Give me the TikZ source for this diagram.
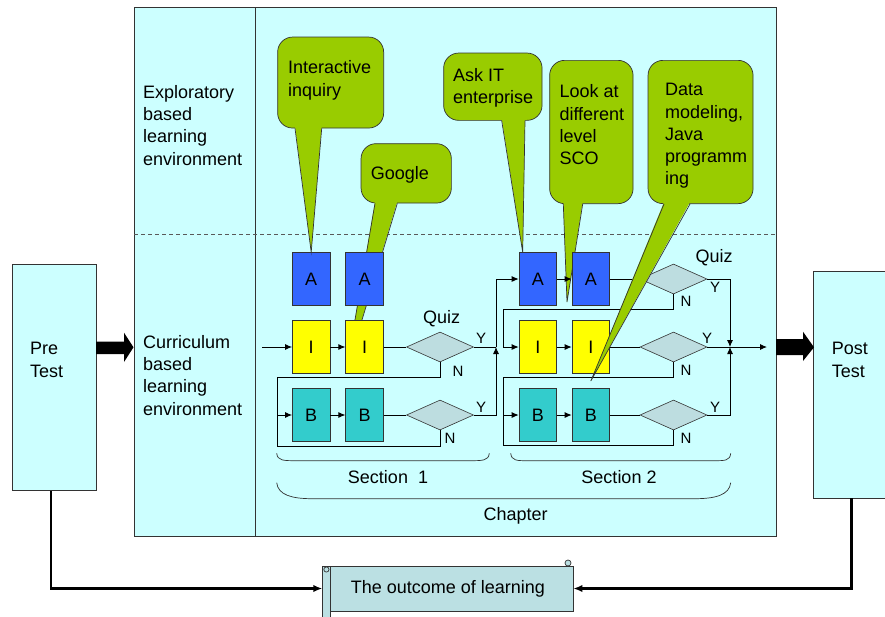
\documentclass[tikz,border=0pt]{standalone}
\usepackage{fontspec}
\setmainfont{Liberation Sans}
\usetikzlibrary{shapes.geometric,arrows.meta,calc}

\definecolor{panelcyan}{HTML}{CCFFFF}
\definecolor{calloutgreen}{HTML}{99CC00}
\definecolor{ablue}{HTML}{3366FF}
\definecolor{iyellow}{HTML}{FFFF00}
\definecolor{bteal}{HTML}{33CCCC}
\definecolor{quizgray}{HTML}{BDDDE0}
\definecolor{scrollfill}{HTML}{BBE0E3}
\definecolor{edgegray}{HTML}{333333}

% tail of a speech bubble: left base, right base, tip
\newcommand\calltail[3]{%
  \fill[calloutgreen] ([yshift=2pt]#1) -- (#3) -- ([yshift=2pt]#2) -- cycle;
  \draw[tailedge] (#1) -- (#3) -- (#2);
}

\begin{document}
\begin{tikzpicture}[x=1pt,y=-1pt,
  every node/.style={font=\fontsize{18}{22.3}\selectfont, inner sep=0pt},
  lbl/.style={align=left, anchor=west},
  unit/.style={draw=edgegray, line width=0.7pt, minimum width=37.5pt, minimum height=53pt},
  ablk/.style={unit, fill=ablue},
  iblk/.style={unit, fill=iyellow},
  bblk/.style={unit, fill=bteal},
  quiz/.style={diamond, draw=edgegray, fill=quizgray, line width=0.6pt,
               minimum width=67pt, minimum height=30pt},
  yn/.style={font=\fontsize{15}{17}\selectfont},
  conn/.style={line width=0.9pt, -{Latex[length=7pt,width=6pt]}},
  wire/.style={line width=0.9pt},
  bubble/.style={draw=edgegray, line width=0.7pt, fill=calloutgreen,
                 rounded corners=15pt, anchor=north west},
  tailedge/.style={draw=edgegray, line width=0.7pt},
  bigline/.style={line width=2.3pt, -{Latex[length=9pt,width=7.5pt]}},
  brace/.style={line width=0.7pt, draw=edgegray},
  boxframe/.style={draw=edgegray, fill=panelcyan, line width=0.8pt},
]
\useasboundingbox (0,0) rectangle (885,616);

% ---- main panel with its two zones
\node[boxframe, minimum width=642pt, minimum height=529pt] (panel) at (455,271.5) {};
\coordinate (divTop) at (255,7);
\coordinate (divBot) at (255,536);
\draw[line width=0.8pt, edgegray] (divTop) -- (divBot);
\coordinate (dashL) at (134,234);
\coordinate (dashR) at (776,234);
\draw[line width=0.7pt, gray!70!black, dash pattern=on 4pt off 3pt] (dashL) -- (dashR);

\node[lbl] (explore) at (143,125.2) {Exploratory\\based\\learning\\environment};
\node[lbl] (curric) at (143,375.2) {Curriculum\\based\\learning\\environment};

% ---- pre / post tests
\node[boxframe, minimum width=83.3pt, minimum height=226.7pt] (pre) at (54.35,377.35) {};
\node[lbl] (preT) at (30,360) {Pre\\Test};
\node[boxframe, minimum width=77pt, minimum height=226.3pt] (post) at (851.5,384.85) {};
\node[lbl] (postT) at (831.7,360) {Post\\Test};

% block arrows
\fill (96,341.7) -- (124,341.7) -- (124,332.7) -- (133.5,347.3) -- (124,362) -- (124,354) -- (96,354) -- cycle;
\fill (776,339) -- (803,339) -- (803,331.7) -- (814,347.3) -- (803,361) -- (803,355) -- (776,355) -- cycle;

% ---- bubbles lying behind the learning units
\node[bubble, minimum width=90.3pt, minimum height=59.4pt] (cGoo) at (360.7,143.3) {};
\node[bubble, minimum width=83.4pt, minimum height=143.3pt] (cLook) at (549.3,60) {};
\coordinate (gooL) at ($(cGoo.south west)+(14.3,0)$);
\coordinate (gooR) at ($(cGoo.south west)+(36.6,0)$);
\coordinate (gooTip) at (345.75,373.5);
\coordinate (lookL) at ($(cLook.south west)+(14,0)$);
\coordinate (lookR) at ($(cLook.south west)+(33.4,0)$);
\coordinate (lookTip) at (567,302);
\calltail{gooL}{gooR}{gooTip}
\calltail{lookL}{lookR}{lookTip}

% ---- learning units, section 1
\node[ablk] (A1) at (311.2,279) {A};
\node[ablk] (A2) at (364.5,279) {A};
\node[iblk] (I1) at (311.2,347) {I};
\node[iblk] (I2) at (364.5,347) {I};
\node[bblk] (B1) at (311.2,415) {B};
\node[bblk] (B2) at (364.5,415) {B};
\node[quiz] (q1) at (440,347) {};
\node[quiz] (q2) at (440,415) {};

% ---- learning units, section 2
\node[ablk] (A3) at (537.8,279) {A};
\node[ablk] (A4) at (590.8,279) {A};
\node[iblk] (I3) at (537.8,347) {I};
\node[iblk] (I4) at (590.8,347) {I};
\node[bblk] (B3) at (537.8,415) {B};
\node[bblk] (B4) at (590.8,415) {B};
\node[quiz] (q3) at (673.5,279) {};
\node[quiz] (q4) at (673.5,347) {};
\node[quiz] (q5) at (673.5,415) {};

% ---- flow in section 1
\coordinate (in1) at (262,347);
\draw[conn] (in1) -- (I1);
\draw[conn] (I1) -- (I2);
\draw[conn] (B1) -- (B2);
\draw[wire] (I2) -- (q1);
\draw[wire] (B2) -- (q2);
\coordinate (j1) at (496,347);
\draw[wire] (q1.east) -- (j1);
\draw[conn] (q2.east) -| (j1);
\draw[conn] (j1) |- (A3.west);
\coordinate (loop1) at (277,377);
\coordinate (loop2) at (277,446);
\draw[conn] (q1.south) |- (loop1) |- (B1.west);
\draw[wire] (q2.south) |- (loop2) -- (loop2 |- B1.west);

% ---- flow in section 2
\draw[conn] (A3) -- (A4);
\draw[conn] (I3) -- (I4);
\draw[conn] (B3) -- (B4);
\draw[wire] (A4) -- (q3);
\draw[wire] (I4) -- (q4);
\draw[wire] (B4) -- (q5);
\coordinate (loop3) at (503,309.3);
\coordinate (loop4) at (503,377.3);
\coordinate (loop5) at (503,445.5);
\draw[conn] (q3.south) |- (loop3) |- (I3.west);
\draw[conn] (q4.south) |- (loop4) |- (B3.west);
\draw[wire] (q5.south) |- (loop5) -- (loop5 |- B3.west);
\coordinate (j2) at (730,347);
\draw[conn] (q3.east) -| (j2);
\draw[conn] (q5.east) -| (j2);
\coordinate (exit) at (767,347);
\draw[conn] (q4.east) -- (exit);

% ---- quiz labels
\node (quiz1) at (441.7,319) {Quiz};
\node (quiz2) at (714,258) {Quiz};
\node[yn] (y1) at (481,338) {Y};
\node[yn] (y2) at (481,407) {Y};
\node[yn] (n1) at (458,371) {N};
\node[yn] (n2) at (450,438) {N};
\node[yn] (y3) at (715,287) {Y};
\node[yn] (y4) at (707,338) {Y};
\node[yn] (y5) at (715,407) {Y};
\node[yn] (n3) at (686,301) {N};
\node[yn] (n4) at (686,370) {N};
\node[yn] (n5) at (686,438) {N};

% ---- bubbles in front
\node[bubble, minimum width=106pt, minimum height=91pt] (cInq) at (277.3,36.7) {};
\coordinate (inqL) at ($(cInq.south west)+(17.7,0)$);
\coordinate (inqR) at ($(cInq.south west)+(44.4,0)$);
\calltail{inqL}{inqR}{A1.north}

\node[bubble, minimum width=98.4pt, minimum height=67.3pt] (cAsk) at (443.3,52.7) {};
\coordinate (askL) at ($(cAsk.south west)+(58.4,0)$);
\coordinate (askR) at ($(cAsk.south west)+(81.7,0)$);
\coordinate (askTip) at ($(A3.north west)+(4,0)$);
\calltail{askL}{askR}{askTip}

\node[bubble, minimum width=105pt, minimum height=143.3pt] (cData) at (647.7,60) {};
\coordinate (dataL) at ($(cData.south west)+(16.3,0)$);
\coordinate (dataR) at ($(cData.south west)+(42.3,0)$);
\coordinate (dataTip) at ($(I4.south)!0.5!(B4.north)$);
\calltail{dataL}{dataR}{dataTip}

\node[lbl] (tInq) at (288,80.3) {Interactive\\inquiry};
\node[lbl] (tGoo) at (370.7,175) {Google};
\node[lbl] (tAsk) at (453,87.5) {Ask IT\\enterprise};
\node[lbl] (tLook) at (559.3,125) {Look at\\different\\level\\SCO};
\node[lbl] (tData) at (665,136) {Data\\modeling,\\Java\\programm\\ing};

% ---- grouping braces
\draw[brace] (276.7,453.3) .. controls (277.5,460.7) and (283,460.7) .. (297,460.7)
  -- (469,460.7) .. controls (483,460.7) and (488.5,460.7) .. (489.3,453.3);
\draw[brace] (510.7,453.3) .. controls (511.5,460.7) and (517,460.7) .. (527,460.7)
  -- (714,460.7) .. controls (725,460.7) and (730,460.7) .. (730.7,453.3);
\draw[brace] (276.7,482.7) .. controls (278,495) and (292,498.7) .. (312,498.7)
  -- (695,498.7) .. controls (715,498.7) and (729.5,495) .. (730.7,482.7);
\node (sec1) at (388,476.7) {Section~~1};
\node (sec2) at (619,476.7) {Section 2};
\node (chap) at (515.7,516) {Chapter};

% ---- outcome scroll
\node[draw=edgegray, fill=scrollfill, line width=0.8pt, minimum width=250.3pt,
      minimum height=45pt] (outcome) at (447.85,588.5) {The outcome of learning};
\draw[edgegray, fill=scrollfill, line width=0.8pt] (322.7,566) rectangle (330,625);
\draw[edgegray, fill=scrollfill, line width=0.7pt] (326.4,569.5) circle (2.6pt);
\draw[edgegray, fill=scrollfill, line width=0.7pt] (568,563) circle (3pt);

\draw[bigline] ([xshift=-3.7pt]pre.south) |- (outcome.west);
\draw[bigline] (post.south) |- (outcome.east);
\end{tikzpicture}
\end{document}
